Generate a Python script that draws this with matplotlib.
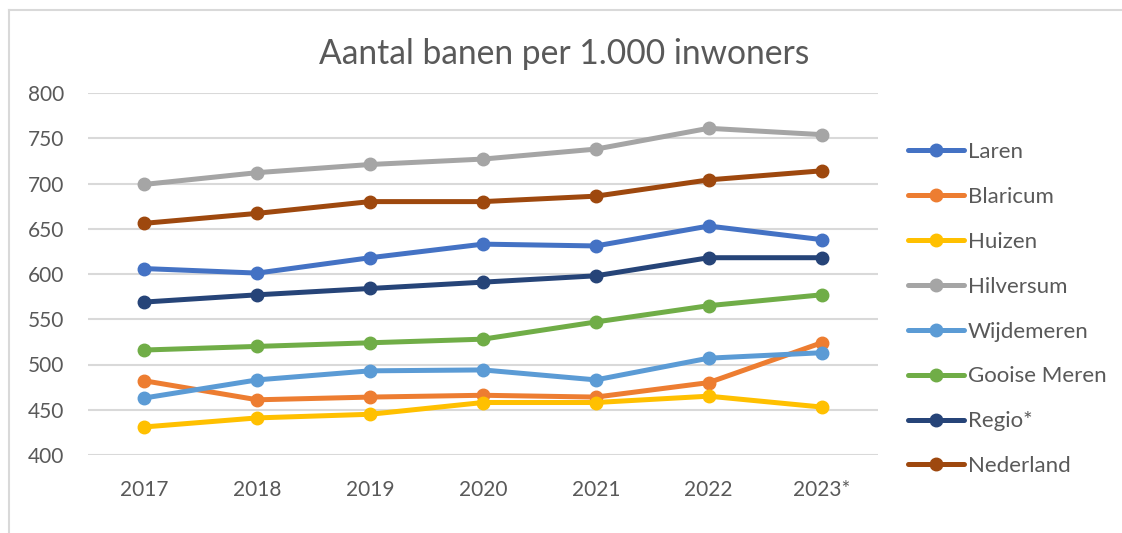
import matplotlib
matplotlib.use("Agg")
import matplotlib.pyplot as plt
from matplotlib.lines import Line2D

plt.rcParams['font.family'] = ['Lato', 'DejaVu Sans']

years = ["2017", "2018", "2019", "2020", "2021", "2022", "2023*"]

laren = [606, 601, 618, 633, 631, 653, 638]
blaricum = [482, 461, 464, 466, 464, 480, 524]
huizen = [431, 441, 445, 458, 458, 465, 453]
hilversum = [699, 712, 721, 727, 738, 761, 754]
wijdemeren = [463, 483, 493, 494, 483, 507, 513]
gooise_meren = [516, 520, 524, 528, 547, 565, 577]
regio = [569, 577, 584, 591, 598, 618, 618]
nederland = [656, 667, 680, 680, 686, 704, 714]

series = [
    ("Laren", laren, "#4472C4"),
    ("Blaricum", blaricum, "#ED7D31"),
    ("Huizen", huizen, "#FFC000"),
    ("Hilversum", hilversum, "#A5A5A5"),
    ("Wijdemeren", wijdemeren, "#5B9BD5"),
    ("Gooise Meren", gooise_meren, "#70AD47"),
    ("Regio*", regio, "#264478"),
    ("Nederland", nederland, "#9E480E"),
]

text_col = "#595959"
grid_col = "#D9D9D9"

fig = plt.figure(figsize=(11.22, 5.33), dpi=100)
ax = fig.add_axes([88 / 1122, 1 - 455 / 533, 790 / 1122, 362 / 533])

x = range(len(years))
for name, vals, col in series:
    ax.plot(x, vals, color=col, lw=3.6, marker="o", ms=9, label=name,
            solid_capstyle="round", zorder=3)

ax.set_xlim(-0.5, len(years) - 0.5)
ax.set_ylim(400, 800)
ax.set_yticks(range(400, 801, 50))
ax.set_xticks(list(x))
ax.set_xticklabels(years)
ax.yaxis.grid(True, color=grid_col, lw=1.5)
ax.set_axisbelow(True)
for s in ax.spines.values():
    s.set_visible(False)
ax.tick_params(length=0, labelsize=15, labelcolor=text_col)
ax.tick_params(axis="x", pad=18)
ax.tick_params(axis="y", pad=17)

fig.text(0.503, 1 - 54 / 533, "Aantal banen per 1.000 inwoners",
         ha="center", va="center", fontsize=24.2, color=text_col)

leg = fig.legend(loc="upper left", bbox_to_anchor=(908 / 1122, 1 - 142 / 533),
                 frameon=False, fontsize=16, labelcolor=text_col,
                 handlelength=2.5, handletextpad=0.18, labelspacing=1.12,
                 borderaxespad=0, borderpad=0)

# chart border (cropped on right and bottom)
fig.add_artist(Line2D([9 / 1122, 1], [1 - 9.5 / 533] * 2, color=grid_col, lw=1.5))
fig.add_artist(Line2D([9 / 1122] * 2, [0, 1 - 9.5 / 533], color=grid_col, lw=1.5))

fig.savefig("out.png", dpi=100)
